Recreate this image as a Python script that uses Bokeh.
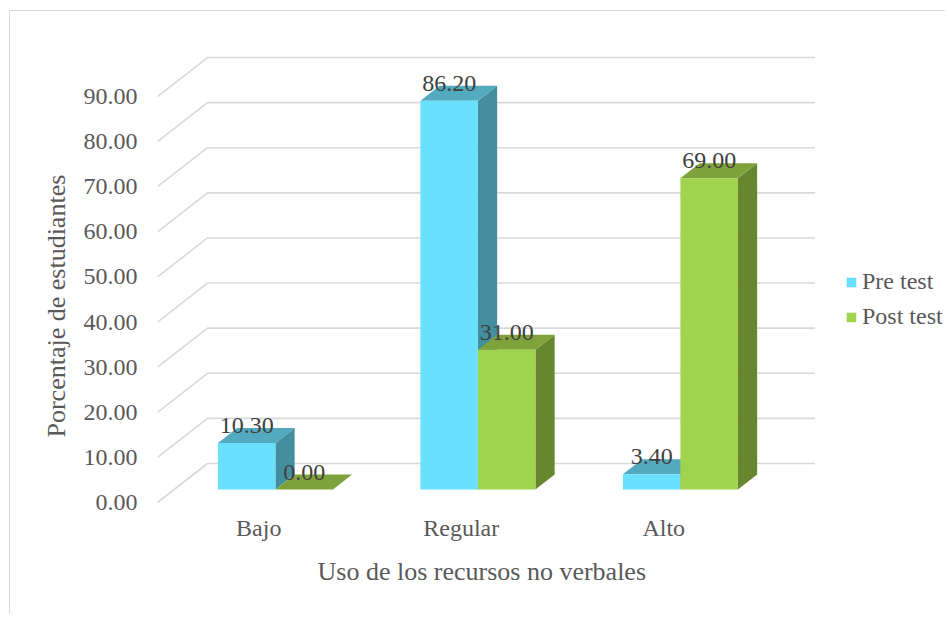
from bokeh.plotting import figure
from bokeh.models import (ColumnDataSource, FixedTicker, Legend, LegendItem,
                          PrintfTickFormatter, Title)
from bokeh.embed import file_html
from bokeh.resources import INLINE

# ---------------- data ----------------
categories = ["Bajo", "Regular", "Alto"]
series_names = ["Pre test", "Post test"]
pre_test = [10.30, 86.20, 3.40]
post_test = [0.00, 31.00, 69.00]
y_ticks = [0, 10, 20, 30, 40, 50, 60, 70, 80, 90]
x_title = "Uso de los recursos no verbales"
y_title = "Porcentaje de estudiantes"

# ---------------- style ----------------
FONT = "Liberation Serif"
QFONT = "'Liberation Serif'"
FS = "24px"
TFS = "26px"
front_colors = ["#69E1FE", "#A0D34E"]
top_colors = ["#53AABF", "#7FA33A"]
side_colors = ["#438E9F", "#67862E"]
grid_color = "#D9D9D9"
tick_color = "#595959"
label_color = "#404040"

PX_X = 202.5          # pixels per category
PX_Y = 4.511          # pixels per value unit
BACK_DX = 50 / PX_X   # 3D depth offset of the back wall
BACK_DY = 39 / PX_Y
BAR_D0 = 1 / 3        # depth fraction of bar front face
BAR_D1 = BAR_D0 + 15 / 39
BAR_W = 57.5 / PX_X

W, H = 936, 604
ML, MT, MB = 147, 9, 105
p = figure(width=W, height=H, output_backend="svg", toolbar_location=None,
           x_range=(0, (W - ML) / PX_X),
           y_range=(-8 / PX_Y, (H - MT - MB - 8) / PX_Y),
           min_border_left=ML, min_border_right=0, min_border_top=MT,
           min_border_bottom=MB)
p.outline_line_color = None
p.xgrid.visible = False
p.ygrid.visible = False
p.background_fill_color = "white"
p.border_fill_color = "white"
p.styles = {"border-left": "1px solid #D9D9D9", "border-top": "1px solid #D9D9D9",
            "margin-left": "9px", "margin-top": "10px"}

n = len(categories)

# back wall gridlines (diagonal + horizontal)
gxs = [[0, BACK_DX, n + BACK_DX] for t in y_ticks]
gys = [[t, t + BACK_DY, t + BACK_DY] for t in y_ticks]
p.multi_line(xs=gxs, ys=gys, line_color=grid_color, line_width=1.6)

ox = BAR_D0 * BACK_DX
oy = BAR_D0 * BACK_DY
ddx = (BAR_D1 - BAR_D0) * BACK_DX
ddy = (BAR_D1 - BAR_D0) * BACK_DY

legend_renderers = []
for s, vals in enumerate([pre_test, post_test]):
    x0 = [i + 0.5 - BAR_W + s * BAR_W + ox for i in range(n)]
    x1 = [a + BAR_W for a in x0]
    tops = [oy + v for v in vals]
    side_xs = [[b, b + ddx, b + ddx, b] for b in x1]
    side_ys = [[oy, oy + ddy, t + ddy, t] for t in tops]
    top_xs = [[a, b, b + ddx, a + ddx] for a, b in zip(x0, x1)]
    top_ys = [[t, t, t + ddy, t + ddy] for t in tops]
    p.patches(xs=side_xs, ys=side_ys, fill_color=side_colors[s], line_color=None)
    p.patches(xs=top_xs, ys=top_ys, fill_color=top_colors[s], line_color=None)
    src = ColumnDataSource(dict(left=x0, right=x1, bottom=[oy] * n, top=tops))
    r = p.quad(left="left", right="right", bottom="bottom", top="top", source=src,
               fill_color=front_colors[s], line_color=None)
    legend_renderers.append(r)
    lab = ColumnDataSource(dict(x=[(a + b) / 2 for a, b in zip(x0, x1)],
                                y=[t + ddy + 0.5 for t in tops],
                                text=["%.2f" % v for v in vals]))
    p.text(x="x", y="y", text="text", source=lab, text_align="center",
           text_baseline="alphabetic", text_font={"value": QFONT},
           text_font_size=FS, text_color=label_color)

# axes
p.yaxis.ticker = FixedTicker(ticks=y_ticks)
p.yaxis.formatter = PrintfTickFormatter(format="%.2f")
p.yaxis.axis_line_color = None
p.yaxis.major_tick_line_color = None
p.yaxis.minor_tick_line_color = None
p.yaxis.major_tick_out = 0
p.yaxis.major_tick_in = 0
p.yaxis.major_label_standoff = 20
p.yaxis.major_label_text_font = FONT
p.yaxis.major_label_text_font_size = FS
p.yaxis.major_label_text_color = tick_color

p.xaxis.ticker = FixedTicker(ticks=[i + 0.5 for i in range(n)])
p.xaxis.major_label_overrides = {i + 0.5: c for i, c in enumerate(categories)}
p.xaxis.axis_line_color = None
p.xaxis.major_tick_line_color = None
p.xaxis.minor_tick_line_color = None
p.xaxis.major_tick_out = 0
p.xaxis.major_tick_in = 0
p.xaxis.major_label_standoff = 4
p.xaxis.major_label_text_font = FONT
p.xaxis.major_label_text_font_size = FS
p.xaxis.major_label_text_color = tick_color

# axis titles (side titles so they can be offset like the original)
p.add_layout(Title(text=y_title, align="left", offset=73, standoff=19,
                   text_font=FONT, text_font_size=TFS, text_font_style="normal",
                   text_color=tick_color), "left")
p.add_layout(Title(text=x_title, align="left", offset=160, standoff=22,
                   text_font=FONT, text_font_size=TFS, text_font_style="normal",
                   text_color=tick_color), "below")

legend = Legend(items=[LegendItem(label=nm, renderers=[r]) for nm, r in zip(series_names, legend_renderers)],
                location=(688, 180), orientation="vertical",
                glyph_width=12, glyph_height=12, label_height=27, spacing=8,
                label_standoff=5, padding=0, margin=0,
                border_line_color=None, background_fill_alpha=0,
                label_text_font=QFONT, label_text_font_size=FS,
                label_text_color=tick_color)
p.add_layout(legend)

open("out.html", "w").write(file_html(p, INLINE))
